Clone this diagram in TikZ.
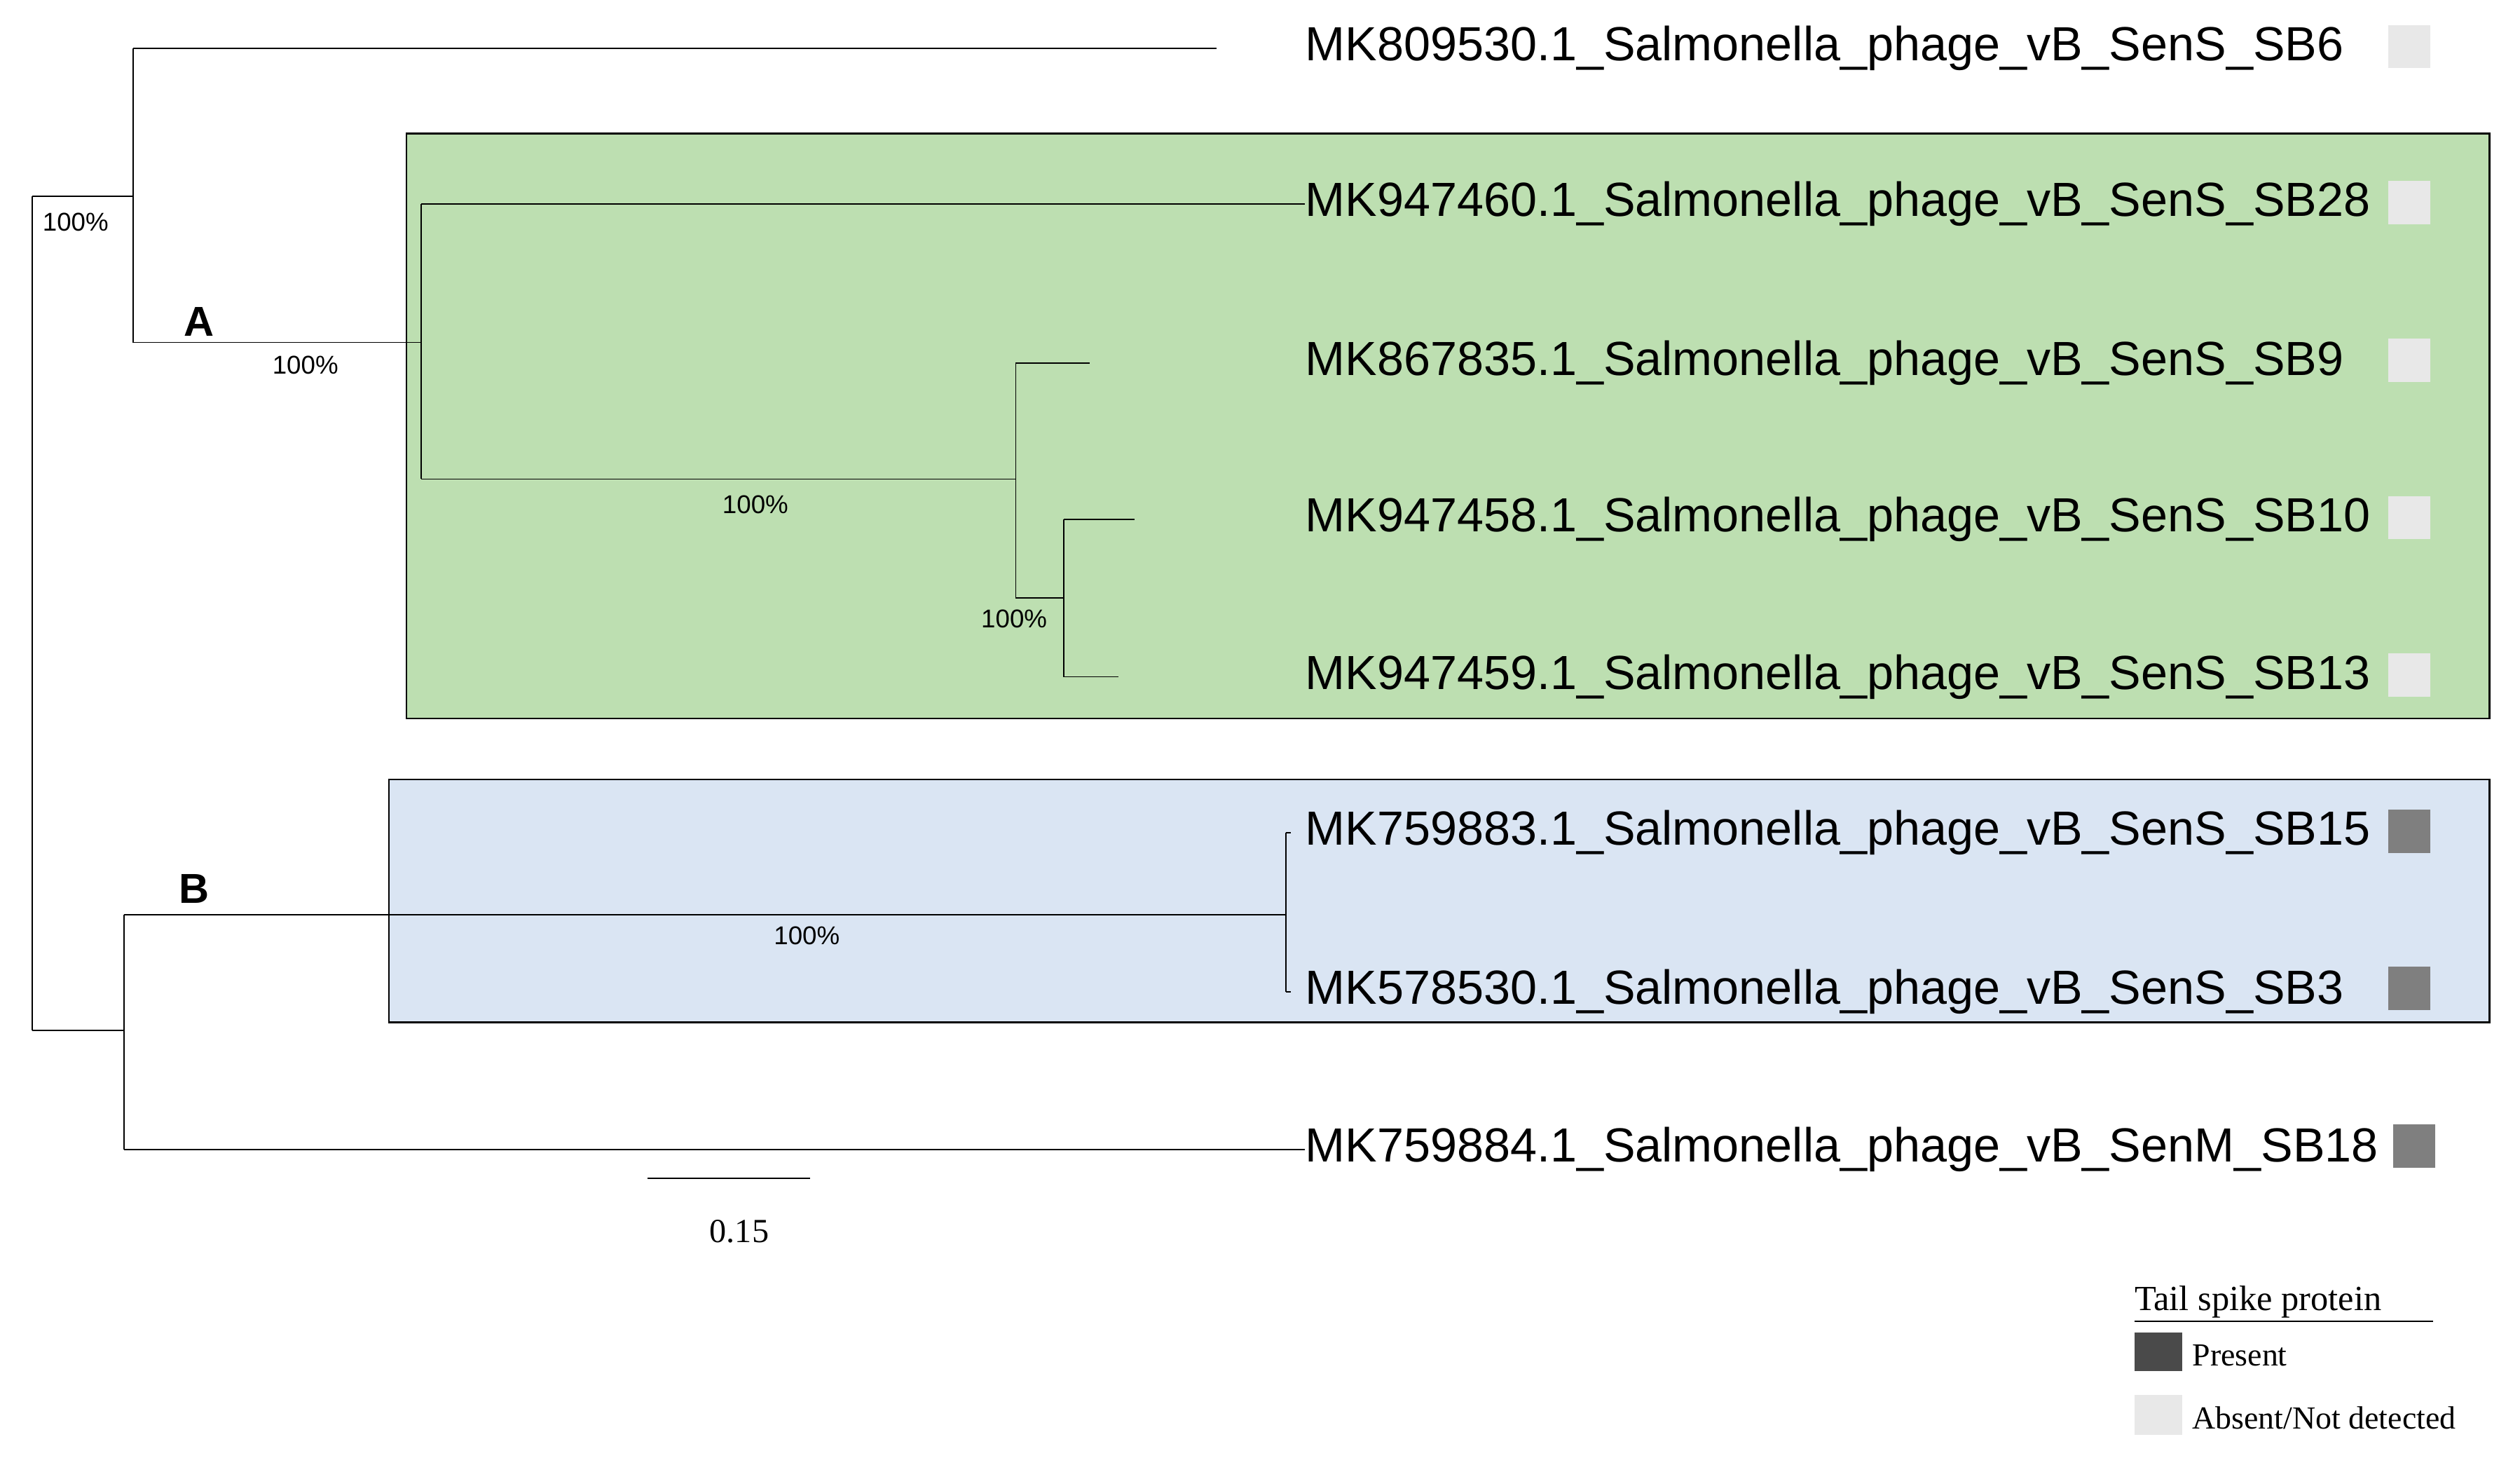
\documentclass[tikz,border=0pt]{standalone}
\usepackage{fontspec}
\setmainfont{Liberation Serif}
\newfontfamily\lsans{Liberation Sans}
\definecolor{gfill}{HTML}{BDDFB1}
\definecolor{bfill}{HTML}{DAE5F3}
\definecolor{absent}{HTML}{E8E8E8}
\definecolor{present}{HTML}{7F7F7F}
\definecolor{legdark}{HTML}{4A4A4A}
\begin{document}
\begin{tikzpicture}[x=1pt,y=-1pt,
  br/.style={draw=black,line width=0.8pt},
  tip/.style={anchor=west,inner sep=0pt,font=\lsans\fontsize{29.8}{30}\selectfont},
  boot/.style={inner sep=0pt,font=\lsans\fontsize{16}{16}\selectfont},
  sq/.style={minimum width=26pt,minimum height=27pt,inner sep=0pt},
  leg/.style={anchor=west,inner sep=0pt,font=\fontsize{20}{20}\selectfont}]
\useasboundingbox[fill=white] (0,0) rectangle (1568,911);
\draw[fill=gfill,line width=1pt] (253,83) rectangle (1549,447);
\draw[fill=bfill,line width=1pt] (242,485) rectangle (1549,636);
% tree
\coordinate (r1) at (20,122); \coordinate (r2) at (20,641);
\draw[br] (r1)--(r2);
\draw[br] (r1)--(83,122);
\draw[br] (83,30)--(83,213);
\draw[br] (83,30)--(757,30);
\draw[br] (83,213)--(262,213);
\draw[br] (262,127)--(262,298);
\draw[br] (262,127)--(812,127);
\draw[br] (262,298)--(632,298);
\draw[br] (632,226)--(632,372);
\draw[br] (632,226)--(678,226);
\draw[br] (632,372)--(662,372);
\draw[br] (662,323)--(662,421);
\draw[br] (662,323)--(706,323);
\draw[br] (662,421)--(696,421);
\draw[br] (r2)--(77,641);
\draw[br] (77,569)--(77,715);
\draw[br] (77,569)--(800,569);
\draw[br] (800,518)--(800,617);
\draw[br] (800,518)--(803,518);
\draw[br] (800,617)--(803,617);
\draw[br] (77,715)--(812,715);
% labels
\node[boot] (b1) at (47,138) {100\%};
\node[boot] (b2) at (190,227) {100\%};
\node[boot] (b3) at (470,314) {100\%};
\node[boot] (b4) at (631,385) {100\%};
\node[boot] (b5) at (502,582) {100\%};
\node[font=\lsans\bfseries\fontsize{26}{26}\selectfont] (A) at (124,200) {A};
\node[font=\lsans\bfseries\fontsize{26}{26}\selectfont] (B) at (121,553) {B};
\node[tip] (t1) at (812,30) {MK809530.1\_Salmonella\_phage\_vB\_SenS\_SB6};
\node[tip] (t2) at (812,127) {MK947460.1\_Salmonella\_phage\_vB\_SenS\_SB28};
\node[tip] (t3) at (812,226) {MK867835.1\_Salmonella\_phage\_vB\_SenS\_SB9};
\node[tip] (t4) at (812,323) {MK947458.1\_Salmonella\_phage\_vB\_SenS\_SB10};
\node[tip] (t5) at (812,421) {MK947459.1\_Salmonella\_phage\_vB\_SenS\_SB13};
\node[tip] (t6) at (812,518) {MK759883.1\_Salmonella\_phage\_vB\_SenS\_SB15};
\node[tip] (t7) at (812,617) {MK578530.1\_Salmonella\_phage\_vB\_SenS\_SB3};
\node[tip] (t8) at (812,715) {MK759884.1\_Salmonella\_phage\_vB\_SenM\_SB18};
\node[sq,fill=absent] (s1) at (1499,29) {};
\node[sq,fill=absent] (s2) at (1499,126) {};
\node[sq,fill=absent] (s3) at (1499,224) {};
\node[sq,fill=absent] (s4) at (1499,322) {};
\node[sq,fill=absent] (s5) at (1499,420) {};
\node[sq,fill=present] (s6) at (1499,517) {};
\node[sq,fill=present] (s7) at (1499,615) {};
\node[sq,fill=present] (s8) at (1502,713) {};
% scale bar
\draw[br] (403,733)--(504,733);
\node[font=\fontsize{21}{21}\selectfont] (sc) at (460,766) {0.15};
% legend
\node[anchor=west,inner sep=0pt,font=\fontsize{22}{22}\selectfont] (lt) at (1328,810) {Tail spike protein};
\draw[line width=0.8pt] (1328,822)--(1514,822);
\node[minimum width=30pt,minimum height=24pt,inner sep=0pt,fill=legdark] (l1) at (1343,841) {};
\node[minimum width=30pt,minimum height=25pt,inner sep=0pt,fill=absent] (l2) at (1343,880) {};
\node[leg] (lp) at (1364,843) {Present};
\node[leg] (la) at (1364,882) {Absent/Not detected};
\end{tikzpicture}
\end{document}
